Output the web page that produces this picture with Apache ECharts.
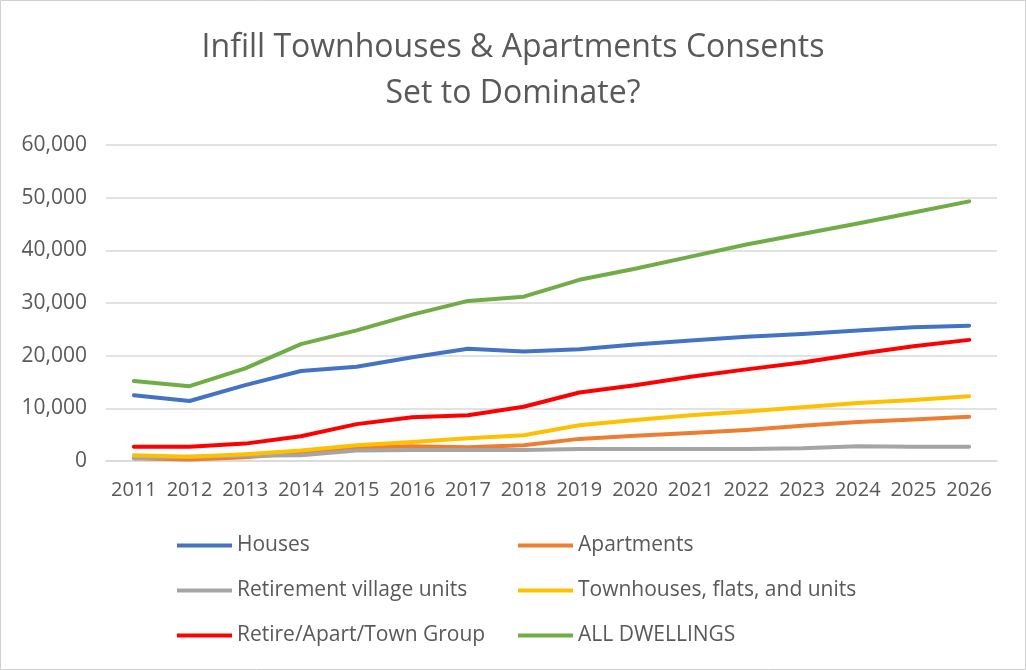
<!DOCTYPE html>
<html>
<head>
<meta charset="utf-8">
<title>Infill Townhouses & Apartments Consents</title>
<script src="https://cdn.jsdelivr.net/npm/echarts@6/dist/echarts.min.js"></script>
<style>
    html, body { margin: 0; padding: 0; background: #fff; }
    #chart { width: 1026px; height: 670px; }
</style>
</head>
<body>
<div id="chart"></div>
<script>
// data
const years = ['2011', '2012', '2013', '2014', '2015', '2016', '2017', '2018',
    '2019', '2020', '2021', '2022', '2023', '2024', '2025', '2026']
const houses = [12500, 11400, 14400, 17100, 17900, 19700, 21300, 20800, 21200, 22100, 22900, 23600, 24100, 24800, 25400, 25700]
const apartments = [500, 300, 700, 1500, 2500, 2800, 2600, 3000, 4200, 4800, 5300, 5900, 6700, 7400, 7900, 8400]
const retirement = [500, 800, 1000, 1100, 2000, 2100, 2100, 2100, 2300, 2300, 2300, 2300, 2400, 2800, 2700, 2700]
const townhouses = [1100, 800, 1300, 2000, 3000, 3600, 4300, 4900, 6800, 7800, 8700, 9400, 10200, 11000, 11600, 12300]
const groupTotal = [2700, 2700, 3300, 4700, 7000, 8300, 8700, 10300, 13000, 14400, 16000, 17400, 18700, 20300, 21800, 23000]
const allDwellings = [15200, 14200, 17600, 22200, 24800, 27800, 30400, 31200, 34400, 36500, 38800, 41100, 43100, 45100, 47200, 49300]
const yTicks = { min: 0, max: 60000, interval: 10000 }

const textGray = '#595959'
const font = 'Open Sans'

let chart = echarts.init(document.getElementById('chart'))

function lineSeries(name, data, color) {
    return {
        name: name,
        type: 'line',
        data: data,
        showSymbol: false,
        symbol: 'none',
        lineStyle: { width: 4, color: color, cap: 'round', join: 'round' },
        itemStyle: { color: color }
    }
}

// one legend per column, 3 rows each
function legendCol(left, names) {
    return {
        orient: 'vertical',
        left: left,
        top: 535,
        padding: 0,
        icon: 'rect',
        itemWidth: 55,
        itemHeight: 4,
        itemGap: 24,
        data: names,
        textStyle: { fontFamily: font, fontSize: 21, lineHeight: 21, color: textGray }
    }
}

const option = {
    animation: false,
    title: {
        text: 'Infill Townhouses & Apartments Consents\nSet to Dominate?',
        left: 'center',
        top: 20,
        textStyle: {
            fontFamily: font,
            fontSize: 32,
            fontWeight: 'normal',
            lineHeight: 46,
            color: textGray
        }
    },
    legend: [
        legendCol(177, ['Houses', 'Retirement village units', 'Retire/Apart/Town Group']),
        legendCol(518, ['Apartments', 'Townhouses, flats, and units', 'ALL DWELLINGS'])
    ],
    grid: { left: 106, right: 29, top: 145, bottom: 209 },
    xAxis: {
        type: 'category',
        data: years,
        boundaryGap: true,
        axisLine: { show: true, lineStyle: { color: '#d9d9d9', width: 1.5 } },
        axisTick: { show: false },
        axisLabel: { fontFamily: font, fontSize: 20, color: textGray, margin: 19, interval: 0 }
    },
    yAxis: {
        type: 'value',
        min: yTicks.min,
        max: yTicks.max,
        interval: yTicks.interval,
        axisLine: { show: false },
        axisTick: { show: false },
        splitLine: { lineStyle: { color: '#d9d9d9', width: 1.5 } },
        axisLabel: {
            fontFamily: font,
            fontSize: 21,
            color: textGray,
            margin: 19,
            formatter: v => v.toLocaleString('en-US')
        }
    },
    series: [
        lineSeries('Houses', houses, '#4472C4'),
        lineSeries('Apartments', apartments, '#ED7D31'),
        lineSeries('Retirement village units', retirement, '#A5A5A5'),
        lineSeries('Townhouses, flats, and units', townhouses, '#FFC000'),
        lineSeries('Retire/Apart/Town Group', groupTotal, '#FF0000'),
        lineSeries('ALL DWELLINGS', allDwellings, '#70AD47')
    ],
    graphic: [{
        type: 'rect',
        shape: { x: 0.5, y: 0.5, width: 1025, height: 669 },
        style: { fill: 'none', stroke: '#d0d0d0', lineWidth: 1 },
        silent: true
    }]
}

chart.setOption(option)

window.addEventListener('resize', function() {
    chart.resize()
})
</script>
</body>
</html>
